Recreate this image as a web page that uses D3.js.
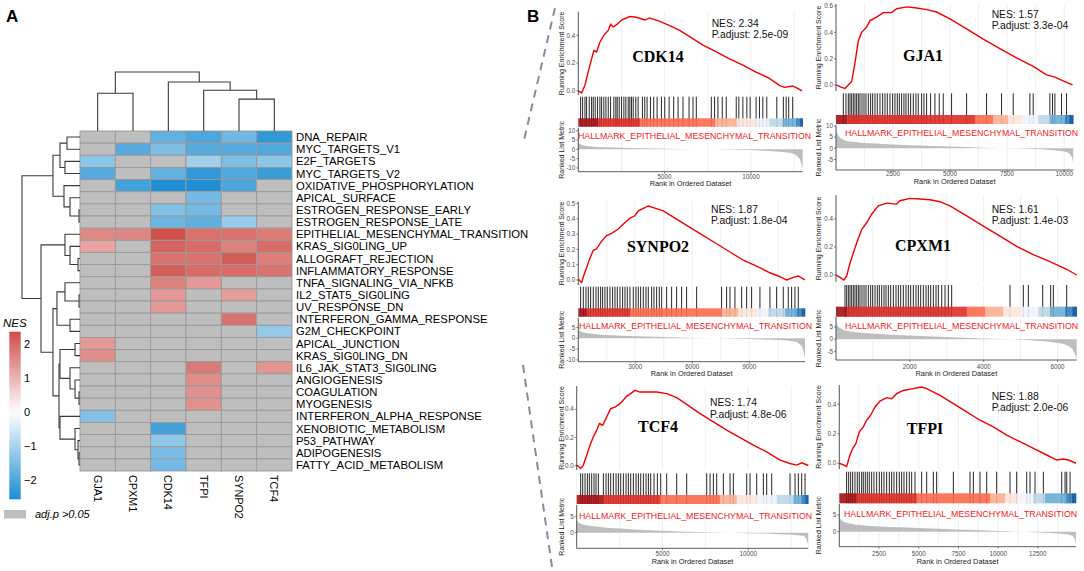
<!DOCTYPE html>
<html>
<head>
<meta charset="utf-8">
<script src="https://cdn.jsdelivr.net/npm/d3@7"></script>
<style>
  body { margin: 0; background: #fff; }
  text { font-family: "Liberation Sans", Arial, Helvetica, sans-serif; }
</style>
</head>
<body>
<svg id="fig" width="1084" height="571"></svg>
<script>
// ---------- panel A data ----------
var pathways = ["DNA_REPAIR","MYC_TARGETS_V1","E2F_TARGETS","MYC_TARGETS_V2","OXIDATIVE_PHOSPHORYLATION",
  "APICAL_SURFACE","ESTROGEN_RESPONSE_EARLY","ESTROGEN_RESPONSE_LATE","EPITHELIAL_MESENCHYMAL_TRANSITION",
  "KRAS_SIG0LING_UP","ALLOGRAFT_REJECTION","INFLAMMATORY_RESPONSE","TNFA_SIGNALING_VIA_NFKB","IL2_STAT5_SIG0LING",
  "UV_RESPONSE_DN","INTERFERON_GAMMA_RESPONSE","G2M_CHECKPOINT","APICAL_JUNCTION","KRAS_SIG0LING_DN",
  "IL6_JAK_STAT3_SIG0LING","ANGIOGENESIS","COAGULATION","MYOGENESIS","INTERFERON_ALPHA_RESPONSE",
  "XENOBIOTIC_METABOLISM","P53_PATHWAY","ADIPOGENESIS","FATTY_ACID_METABOLISM"];
var genes = ["GJA1","CPXM1","CDK14","TFPI","SYNPO2","TCF4"];
var n = null; // adj.p > 0.05
var nesGJA1  = [n,n,-1.3,-1.9,n,n,n,n,1.57,1.2,n,n,n,n,n,n,n,1.35,1.5,n,n,n,n,-1.4,n,n,n,n];
var nesCPXM1 = [n,-1.9,n,n,-2.1,n,n,n,1.61,n,n,n,n,n,n,n,n,n,n,n,n,n,n,n,n,n,n,n];
var nesCDK14 = [-1.75,-1.45,n,-1.75,-2.5,n,-1.4,-1.65,2.34,2.05,1.85,2.15,1.65,1.35,1.35,n,n,n,n,n,n,n,n,n,-2.1,-1.25,-1.5,-1.55];
var nesTFPI  = [-2.0,-1.9,-1.05,-2.3,-2.5,-1.55,-1.55,-1.8,1.88,1.95,1.85,1.95,1.35,n,n,n,n,n,n,1.75,1.5,1.45,1.45,n,n,n,n,n];
var nesSYNPO2= [-1.6,-1.9,-1.45,-1.95,-2.0,n,n,-1.15,1.87,1.65,2.15,1.95,n,1.3,n,1.85,n,n,n,n,n,n,n,n,n,n,n,n];
var nesTCF4  = [-2.3,-1.95,-1.3,-2.2,n,n,n,n,1.74,1.95,1.7,1.85,n,n,n,n,-1.2,n,n,1.4,n,n,n,n,n,n,n,n];
var legendTicks = [-2,-1,0,1,2];
// dendrograms: [merge height, left, right], leaves are indices
var colTree = [10, [6.4,0,1], [8.3, 2, [6.9, 3, [5.4,4,5]]]];
var rowTree = [10,
  [4.66, [3.45, [2.24,0,1], [2.59,2,3]], [2.76, 4, [1.72, 5, [0.17,6,7]]]],
  [6.72, [2.59, 8, [1.72, 9, [0.34,10,11]]],
    [4.66, [3.97, [2.59, 12, [0.17,13,14]], [1.72,15,16]],
      [3.62, [3.45, [0.86,17,18], [1.72, 19, [0.86, 20, [0.17,21,22]]]],
        [3.45, 23, [0.86, 24, [0.34, 25, [0.17,26,27]]]]]]]];

// ---------- panel B data ----------
var barPalette = ["#A50F15","#DE2D26","#FB6A4A","#FCAE91","#FEE5D9","#EFF3FF","#BDD7E7","#6BAED6","#3182BD","#08519C"];

var cdk14Es = [[0,0],[190,-0.015],[385,0.04],[580,0.14],[770,0.23],[905,0.29],[1060,0.28],[1250,0.35],[1480,0.40],[1735,0.435],[1870,0.48],[2020,0.46],[2255,0.48],[2505,0.51],[2985,0.535],[3370,0.53],[3850,0.51],[4140,0.525],[4720,0.50],[5300,0.47],[5875,0.435],[6450,0.39],[7220,0.33],[8000,0.28],[8760,0.23],[9535,0.185],[10300,0.135],[11070,0.09],[11650,0.04],[11940,0.025],[12420,0.035],[12710,0.017],[12960,0]];
var cdk14Hits = [135,250,385,480,635,770,865,980,1115,1250,1350,1480,1600,1735,1870,2060,2175,2255,2370,2505,2640,2755,2890,2985,3080,3180,3330,3465,3715,3850,3985,4180,4370,4565,4815,5010,5260,5525,5780,6065,6415,6645,6835,7705,7895,8090,8340,8570,9150,9300,9535,9765,9955,10300,10495,10690,10920,11500,11880,12040,12190,12420];
var cdk14Bar = [0,1150,3560,7900,9150,10300,11070,11840,12610,12850,13000];
var cdk14Metric = [[0,3.2],[290,2.0],[1060,1.2],[2990,0.7],[5875,0.2],[7800,0],[10690,-0.7],[12230,-1.8],[12710,-4],[12900,-7],[13000,-11]];

var gja1Es = [[0,0],[248,-0.018],[394,-0.026],[540,0],[686,0.026],[832,0.168],[978,0.335],[1124,0.40],[1343,0.44],[1489,0.49],[1781,0.516],[2073,0.55],[2438,0.55],[2657,0.58],[3095,0.594],[3533,0.586],[3971,0.573],[4409,0.555],[4993,0.503],[5723,0.426],[6453,0.348],[7183,0.276],[7913,0.206],[8643,0.142],[9227,0.077],[9592,0.059],[10030,0.026],[10366,0]];
var gja1Hits = [321,438,540,613,686,759,832,905,978,1051,1139,1226,1314,1416,1518,1606,1708,1810,1927,2044,2146,2248,2365,2482,2584,2686,2774,2876,2978,3066,3168,3270,3387,3504,3606,3752,3854,3971,4146,4336,4526,4701,5066,5723,6599,7256,7767,8497,8643,9373,9490,9592,9884,10103];
var gja1Bar = [0,467,6088,6891,7548,8132,8862,9373,10030,10220,10400];
var gja1Metric = [[0,8.6],[102,5.7],[321,3.9],[759,2.9],[2073,1.9],[4263,1.0],[6453,0.3],[7913,-0.1],[9373,-0.7],[10103,-1.6],[10322,-3.6],[10400,-6.4]];

var synpo2Es = [[0,0.004],[175,-0.017],[298,0.032],[438,0.08],[579,0.133],[789,0.194],[965,0.204],[1228,0.254],[1491,0.29],[1754,0.305],[2105,0.333],[2456,0.376],[2719,0.404],[2982,0.42],[3157,0.452],[3420,0.469],[3684,0.484],[3947,0.473],[4473,0.452],[5174,0.398],[5876,0.344],[6578,0.29],[7280,0.237],[7981,0.183],[8683,0.129],[9384,0.09],[10086,0.047],[10524,0.026],[10963,0],[11314,0.017],[11577,0.026],[11926,0]];
var synpo2Hits = [123,263,403,526,649,789,930,1052,1175,1280,1403,1526,1666,1807,1929,2052,2193,2333,2456,2578,2719,2894,3034,3157,3280,3420,3561,3683,3859,3982,4122,4262,4385,4648,4911,5174,5437,5700,6227,7542,7805,7981,8244,8595,8858,9121,9559,10086,10436,10787,11050,11226,11401,11577];
var synpo2Bar = [0,438,2719,7542,8419,9384,9998,10875,11489,11752,11930];
var synpo2Metric = [[0,4.3],[175,2.9],[965,1.9],[2719,1.1],[5350,0.4],[7100,0],[9735,-0.6],[11314,-1.4],[11752,-3.6],[11930,-9.3]];

var cpxm1Es = [[0,0],[108,-0.017],[217,-0.036],[289,-0.007],[379,0.084],[470,0.157],[560,0.229],[695,0.325],[831,0.373],[966,0.434],[1147,0.494],[1373,0.513],[1643,0.506],[1734,0.53],[2005,0.547],[2276,0.542],[2546,0.537],[2817,0.523],[3088,0.494],[3540,0.422],[3991,0.349],[4443,0.277],[4894,0.205],[5346,0.145],[5797,0.096],[6249,0.041],[6520,0]];
var cpxm1Hits = [244,289,334,379,424,470,515,560,605,650,704,759,813,876,939,993,1057,1120,1174,1237,1300,1355,1418,1481,1553,1625,1689,1752,1824,1896,1960,2023,2095,2167,2230,2294,2366,2438,2501,2565,2637,2709,2772,2863,2953,3043,3133,4714,5075,5210,5599,5815,5888,6249];
var cpxm1Bar = [0,289,3540,4036,4533,5030,5481,5797,6204,6400,6520];
var cpxm1Metric = [[0,6.5],[108,4.5],[379,3.1],[1282,2.0],[2637,1.1],[3991,0.3],[5346,-0.5],[6068,-1.6],[6384,-3.6],[6520,-7.7]];

var tcf4Es = [[0,0.005],[233,-0.019],[389,0.005],[583,0.075],[777,0.146],[972,0.205],[1166,0.252],[1321,0.299],[1516,0.287],[1749,0.346],[1982,0.405],[2234,0.416],[2526,0.44],[2915,0.492],[3400,0.534],[3692,0.522],[4080,0.522],[4663,0.522],[5246,0.511],[5829,0.482],[6412,0.435],[7189,0.369],[7966,0.311],[8744,0.252],[9521,0.2],[10298,0.146],[11075,0.099],[11852,0.04],[12435,0.016],[12824,0.005],[13115,0.021],[13500,0.002]];
var tcf4Hits = [233,350,486,622,738,874,1010,1127,1263,1554,1710,1846,1982,2137,2293,2429,2565,2720,2876,3012,3148,3303,3459,3595,3731,3886,4042,4178,4313,4508,4702,4896,5246,5829,6412,7578,7772,7966,8161,8549,8938,9132,9909,10104,10492,10881,11075,11367,12435,12727,12921,13115,13310];
var tcf4Bar = [0,1554,4858,8355,9326,10492,11658,12630,13115,13350,13500];
var tcf4Metric = [[0,4.0],[194,2.9],[1166,1.9],[3109,1.1],[6024,0.4],[8938,0],[11852,-0.5],[13212,-1.0],[13465,-3.3],[13500,-4.9]];

var tfpiEs = [[0,0],[252,-0.011],[462,-0.022],[672,0.056],[840,0.1],[1050,0.135],[1259,0.213],[1511,0.247],[1721,0.292],[1973,0.326],[2246,0.382],[2561,0.422],[2981,0.445],[3295,0.438],[3610,0.472],[4030,0.494],[4660,0.506],[5185,0.517],[5500,0.506],[6339,0.461],[7179,0.404],[8018,0.348],[8858,0.292],[9698,0.247],[10537,0.191],[11377,0.146],[12216,0.101],[13056,0.056],[13686,0.022],[14106,0.029],[14421,0.022],[14900,0]];
var tfpiHits = [462,588,714,840,987,1133,1259,1406,1511,1637,1763,1889,2036,2183,2351,2519,2666,2813,2981,3149,3295,3442,3610,3778,3925,4072,4240,4408,4555,4765,5185,5500,5919,6129,7179,8228,8438,8858,9278,9907,10747,11167,11797,12006,12321,12846,14001,14211,14316,14526];
var tfpiBar = [0,1091,4870,9487,10432,11272,12216,12951,14316,14650,14900];
var tfpiMetric = [[0,4.5],[252,3.0],[1301,2.0],[3820,1.3],[6969,0.7],[10118,0.2],[12216,-0.2],[14316,-0.8],[14736,-1.5],[14900,-3.5]];

var setName = "HALLMARK_EPITHELIAL_MESENCHYMAL_TRANSITION";

var svg = d3.select("#fig");

// ================= Panel A : heatmap =================
var nesCols = [nesGJA1, nesCPXM1, nesCDK14, nesTFPI, nesSYNPO2, nesTCF4];
var x = d3.scaleBand().domain(genes).range([80, 292]);
var y = d3.scaleBand().domain(pathways).range([131, 471]);
var color = d3.scaleLinear().domain([-2.55, 0, 2.36]).range(["#1C8DD2", "#ffffff", "#CF4D47"]);

var cells = [];
genes.forEach(function (g, j) {
  pathways.forEach(function (p, i) {
    cells.push({gene: g, path: p, v: nesCols[j][i]});
  });
});

svg.append("g").selectAll("rect")
  .data(cells).enter().append("rect")
  .attr("x", function (d) { return x(d.gene); })
  .attr("y", function (d) { return y(d.path); })
  .attr("width", x.bandwidth())
  .attr("height", y.bandwidth())
  .attr("fill", function (d) { return d.v === null ? "#BEBEBE" : color(d.v); })
  .attr("stroke", "#9a9a9a")
  .attr("stroke-width", 0.9);

svg.append("g").selectAll("text")
  .data(pathways).enter().append("text")
  .attr("x", 296)
  .attr("y", function (d) { return y(d) + y.bandwidth() / 2; })
  .attr("dy", "0.36em")
  .style("font-size", "11.3px")
  .text(function (d) { return d; });

svg.append("g").selectAll("text")
  .data(genes).enter().append("text")
  .attr("transform", function (d) { return "translate(" + (x(d) + x.bandwidth() / 2) + ",475) rotate(90)"; })
  .attr("dy", "0.36em")
  .style("font-size", "10.8px")
  .text(function (d) { return d; });

// dendrograms
var treeG = svg.append("g").attr("fill", "none").attr("stroke", "#3a3a3a").attr("stroke-width", 1.1);
var rowH = d3.scaleLinear().domain([0, 10]).range([80, 22]);
var colH = d3.scaleLinear().domain([0, 10]).range([131, 72]);

function drawRow(node) {
  if (typeof node === "number") return {p: y(pathways[node]) + y.bandwidth() / 2, h: 0};
  var a = drawRow(node[1]), b = drawRow(node[2]), hx = rowH(node[0]);
  treeG.append("path").attr("d", "M" + rowH(a.h) + "," + a.p + "H" + hx + "V" + b.p + "H" + rowH(b.h));
  return {p: (a.p + b.p) / 2, h: node[0]};
}
function drawCol(node) {
  if (typeof node === "number") return {p: x(genes[node]) + x.bandwidth() / 2, h: 0};
  var a = drawCol(node[1]), b = drawCol(node[2]), hy = colH(node[0]);
  treeG.append("path").attr("d", "M" + a.p + "," + colH(a.h) + "V" + hy + "H" + b.p + "V" + colH(b.h));
  return {p: (a.p + b.p) / 2, h: node[0]};
}
drawRow(rowTree);
drawCol(colTree);

// legend
var defs = svg.append("defs");
var grad = defs.append("linearGradient").attr("id", "nesGrad")
  .attr("x1", 0).attr("y1", 1).attr("x2", 0).attr("y2", 0);
d3.range(0, 1.0001, 0.05).forEach(function (t) {
  var v = -2.55 + t * (2.36 + 2.55);
  grad.append("stop").attr("offset", t).attr("stop-color", color(v));
});
var legY = d3.scaleLinear().domain([-2.55, 2.36]).range([499.3, 331.7]);
svg.append("rect").attr("x", 9.3).attr("y", legY(2.36)).attr("width", 11.4)
  .attr("height", legY(-2.55) - legY(2.36)).attr("fill", "url(#nesGrad)");
svg.append("g").selectAll("text").data(legendTicks).enter().append("text")
  .attr("x", 24).attr("y", function (d) { return legY(d); }).attr("dy", "0.36em")
  .style("font-size", "11px")
  .text(function (d) { return d < 0 ? "\u2212" + Math.abs(d) : d; });
svg.append("text").attr("x", 3).attr("y", 327).style("font-size", "11.5px")
  .style("font-style", "italic").text("NES");
svg.append("rect").attr("x", 4).attr("y", 510).attr("width", 22).attr("height", 8.5).attr("fill", "#BEBEBE");
svg.append("text").attr("x", 35).attr("y", 518).style("font-size", "11px")
  .style("font-style", "italic").text("adj.p >0.05");

svg.append("text").attr("x", 6).attr("y", 22).style("font-size", "17px").style("font-weight", "bold").text("A");
svg.append("text").attr("x", 527).attr("y", 22).style("font-size", "17px").style("font-weight", "bold").text("B");

// dashed connectors
svg.append("g").attr("stroke", "#8c8c8c").attr("stroke-width", 2).attr("stroke-dasharray", "8,6")
  .selectAll("line").data([[555, 8, 524, 140], [523, 365, 552, 567]]).enter().append("line")
  .attr("x1", function (d) { return d[0]; }).attr("y1", function (d) { return d[1]; })
  .attr("x2", function (d) { return d[2]; }).attr("y2", function (d) { return d[3]; });

// ================= Panel B : GSEA plots =================
var panels = [
  {gene: "CDK14", nes: "2.34", padj: "2.5e-09", es: cdk14Es, hits: cdk14Hits, bar: cdk14Bar, metric: cdk14Metric,
   n: 13000, xt: [0, 5000, 10000], et: [0, 0.2, 0.4], mt: [-10, -5, 0, 5, 10],
   x0: 578.3, x1: 802.7, esTop: 11.7, esBot: 95, hitTop: 96.7, cbTop: 118.3, cbBot: 126.7, mTop: 127.7, mBot: 171.7,
   esDom: [-0.03, 0.57], mDom: [-12, 11.6], labY: 176.5, titleY: 183.5, ytX: 562,
   nesX: 711.7, nesY: 23, padjY: 34.5, geneX: 658, geneY: 56.7, txtX: 578, txtY: 136},
  {gene: "GJA1", nes: "1.57", padj: "3.3e-04", es: gja1Es, hits: gja1Hits, bar: gja1Bar, metric: gja1Metric,
   n: 10400, xt: [0, 2500, 5000, 7500, 10000], et: [0, 0.2, 0.4, 0.6], mt: [-5, 0, 5, 10],
   x0: 836, x1: 1073.3, esTop: 4, esBot: 91, hitTop: 93.3, cbTop: 115, cbBot: 124, mTop: 125, mBot: 170,
   esDom: [-0.046, 0.616], mDom: [-9.7, 10.45], labY: 174, titleY: 181.7, ytX: 819,
   nesX: 991.7, nesY: 14, padjY: 25.5, geneX: 923, geneY: 55, txtX: 845, txtY: 133.3},
  {gene: "SYNPO2", nes: "1.87", padj: "1.8e-04", es: synpo2Es, hits: synpo2Hits, bar: synpo2Bar, metric: synpo2Metric,
   n: 11930, xt: [0, 3000, 6000, 9000], et: [0, 0.1, 0.2, 0.3, 0.4, 0.5], mt: [-10, -5, 0, 5],
   x0: 578.3, x1: 805, esTop: 201.7, esBot: 285, hitTop: 286.7, cbTop: 308.3, cbBot: 316.7, mTop: 317.7, mBot: 361.7,
   esDom: [-0.033, 0.512], mDom: [-10.8, 9.5], labY: 366.5, titleY: 373, ytX: 562,
   nesX: 711, nesY: 209, padjY: 220.5, geneX: 658, geneY: 246.7, txtX: 579, txtY: 326},
  {gene: "CPXM1", nes: "1.61", padj: "1.4e-03", es: cpxm1Es, hits: cpxm1Hits, bar: cpxm1Bar, metric: cpxm1Metric,
   n: 6520, xt: [0, 2000, 4000, 6000], et: [0, 0.2, 0.4], mt: [-5, 0, 5],
   x0: 836, x1: 1076.7, esTop: 195, esBot: 282, hitTop: 285, cbTop: 306.7, cbBot: 316.7, mTop: 316.7, mBot: 360,
   esDom: [-0.05, 0.571], mDom: [-8.35, 9.1], labY: 366.5, titleY: 373, ytX: 819,
   nesX: 991.7, nesY: 209, padjY: 220.5, geneX: 923, geneY: 245, txtX: 845, txtY: 326},
  {gene: "TCF4", nes: "1.74", padj: "4.8e-06", es: tcf4Es, hits: tcf4Hits, bar: tcf4Bar, metric: tcf4Metric,
   n: 13500, xt: [0, 5000, 10000], et: [0, 0.2, 0.4], mt: [0, 5],
   x0: 576.7, x1: 808.3, esTop: 386, esBot: 470, hitTop: 473.3, cbTop: 495, cbBot: 504, mTop: 505, mBot: 548.3,
   esDom: [-0.03, 0.565], mDom: [-4.9, 8.66], labY: 553.5, titleY: 561.7, ytX: 562,
   nesX: 710, nesY: 402.5, padjY: 414, geneX: 658, geneY: 426.7, txtX: 579, txtY: 516},
  {gene: "TFPI", nes: "1.88", padj: "2.0e-06", es: tfpiEs, hits: tfpiHits, bar: tfpiBar, metric: tfpiMetric,
   n: 14900, xt: [0, 2500, 5000, 7500, 10000, 12500], et: [0, 0.2, 0.4], mt: [0, 5],
   x0: 839.3, x1: 1076, esTop: 385, esBot: 469, hitTop: 471.7, cbTop: 493.3, cbBot: 503.3, mTop: 504, mBot: 546.7,
   esDom: [-0.039, 0.531], mDom: [-4.5, 8.3], labY: 553.5, titleY: 561, ytX: 819,
   nesX: 991.7, nesY: 396, padjY: 407.5, geneX: 925, geneY: 428, txtX: 844, txtY: 514}
];

function drawPanel(p) {
  var g = svg.append("g");
  var xs = d3.scaleLinear().domain([0, p.n]).range([p.x0, p.x1]);
  var ye = d3.scaleLinear().domain(p.esDom).range([p.esBot, p.esTop]);
  var ym = d3.scaleLinear().domain(p.mDom).range([p.mBot, p.mTop]);

  // vertical grid (major + minor)
  var step = p.xt[1] - p.xt[0];
  var grid = [];
  for (var v = 0; v <= p.n; v += step / 2) grid.push(v);
  [[p.esTop, p.esBot], [p.hitTop, p.cbBot], [p.mTop, p.mBot]].forEach(function (r) {
    g.append("g").selectAll("line").data(grid).enter().append("line")
      .attr("x1", function (d) { return xs(d); }).attr("x2", function (d) { return xs(d); })
      .attr("y1", r[0]).attr("y2", r[1])
      .attr("stroke", "#ebebeb").attr("stroke-width", 0.8);
  });

  // running enrichment score
  g.append("path").datum(p.es)
    .attr("d", d3.line().x(function (d) { return xs(d[0]); }).y(function (d) { return ye(d[1]); }))
    .attr("fill", "none").attr("stroke", "#F00000").attr("stroke-width", 1.4);

  // hits
  g.append("g").selectAll("line").data(p.hits).enter().append("line")
    .attr("x1", function (d) { return xs(d); }).attr("x2", function (d) { return xs(d); })
    .attr("y1", p.hitTop).attr("y2", p.cbBot)
    .attr("stroke", "#000").attr("stroke-width", 1).attr("stroke-opacity", 0.85);

  // colour bar
  var segs = d3.range(p.bar.length - 1);
  g.append("g").selectAll("rect").data(segs).enter().append("rect")
    .attr("x", function (i) { return xs(p.bar[i]); })
    .attr("width", function (i) { return xs(p.bar[i + 1]) - xs(p.bar[i]) + 0.3; })
    .attr("y", p.cbTop).attr("height", p.cbBot - p.cbTop)
    .attr("fill", function (i) { return barPalette[i]; }).attr("fill-opacity", 0.9);

  // ranked list metric
  g.append("path").datum(p.metric)
    .attr("d", d3.area().curve(d3.curveMonotoneX)
      .x(function (d) { return xs(d[0]); }).y0(ym(0)).y1(function (d) { return ym(d[1]); }))
    .attr("fill", "#BEBEBE");

  // axes
  var axisCol = "#333";
  g.append("line").attr("x1", p.x0).attr("x2", p.x0).attr("y1", p.esTop).attr("y2", p.esBot)
    .attr("stroke", axisCol).attr("stroke-width", 0.8);
  g.append("line").attr("x1", p.x0).attr("x2", p.x0).attr("y1", p.mTop).attr("y2", p.mBot)
    .attr("stroke", axisCol).attr("stroke-width", 0.8);
  g.append("line").attr("x1", p.x0).attr("x2", p.x1).attr("y1", p.mBot).attr("y2", p.mBot)
    .attr("stroke", axisCol).attr("stroke-width", 0.8);

  var tickG = g.append("g").style("font-size", "6.3px").attr("fill", "#4d4d4d");
  p.et.forEach(function (t) {
    tickG.append("line").attr("x1", p.x0 - 2).attr("x2", p.x0).attr("y1", ye(t)).attr("y2", ye(t)).attr("stroke", axisCol).attr("stroke-width", 0.6);
    tickG.append("text").attr("x", p.x0 - 3).attr("y", ye(t)).attr("dy", "0.35em").attr("text-anchor", "end").text(t.toFixed(1));
  });
  p.mt.forEach(function (t) {
    tickG.append("line").attr("x1", p.x0 - 2).attr("x2", p.x0).attr("y1", ym(t)).attr("y2", ym(t)).attr("stroke", axisCol).attr("stroke-width", 0.6);
    tickG.append("text").attr("x", p.x0 - 3).attr("y", ym(t)).attr("dy", "0.35em").attr("text-anchor", "end").text(t);
  });
  p.xt.filter(function (t) { return t > 0; }).forEach(function (t) {
    tickG.append("line").attr("x1", xs(t)).attr("x2", xs(t)).attr("y1", p.mBot).attr("y2", p.mBot + 2).attr("stroke", axisCol).attr("stroke-width", 0.6);
    tickG.append("text").attr("x", xs(t)).attr("y", p.labY).attr("dy", "0.35em").attr("text-anchor", "middle").text(t);
  });

  // titles
  g.append("text").attr("x", (p.x0 + p.x1) / 2).attr("y", p.titleY).attr("dy", "0.35em")
    .attr("text-anchor", "middle").style("font-size", "7.4px").attr("fill", "#222").text("Rank in Ordered Dataset");
  g.append("text").attr("transform", "translate(" + p.ytX + "," + (p.esTop + p.esBot) / 2 + ") rotate(-90)")
    .attr("text-anchor", "middle").attr("dy", "0.35em").style("font-size", "7px").attr("fill", "#222")
    .text("Running Enrichment Score");
  g.append("text").attr("transform", "translate(" + p.ytX + "," + (p.mTop + p.mBot) / 2 + ") rotate(-90)")
    .attr("text-anchor", "middle").attr("dy", "0.35em").style("font-size", "7px").attr("fill", "#222")
    .text("Ranked List Metric");

  g.append("text").attr("x", p.txtX).attr("y", p.txtY).attr("dy", "0.35em")
    .style("font-size", "8.8px").attr("fill", "#F01A1A").text(setName);

  g.append("text").attr("x", p.nesX).attr("y", p.nesY).attr("dy", "0.35em")
    .style("font-size", "10.3px").attr("fill", "#111").text("NES: " + p.nes);
  g.append("text").attr("x", p.nesX).attr("y", p.padjY).attr("dy", "0.35em")
    .style("font-size", "10.3px").attr("fill", "#111").text("P.adjust: " + p.padj);

  g.append("text").attr("x", p.geneX).attr("y", p.geneY).attr("dy", "0.35em").attr("text-anchor", "middle")
    .style("font-family", "'Liberation Serif', 'Times New Roman', serif").style("font-weight", "bold")
    .style("font-size", "16px").text(p.gene);
}

panels.forEach(drawPanel);
</script>
</body>
</html>
